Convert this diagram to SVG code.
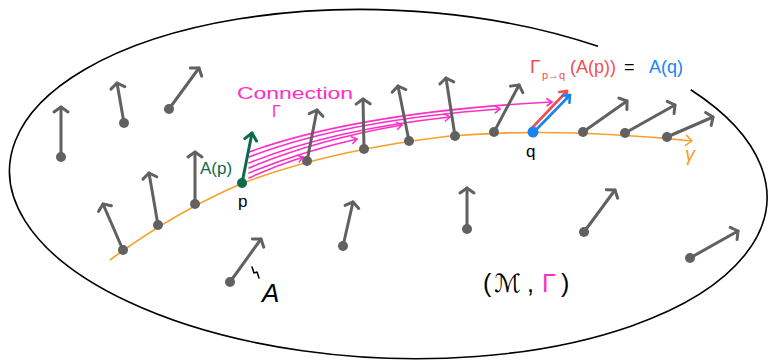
<svg xmlns="http://www.w3.org/2000/svg" width="768" height="361" viewBox="0 0 768 361">
<style>
  .vec { stroke: #616161; stroke-width: 3; stroke-linecap: round; fill: none; marker-end: url(#hGray); }
  .dot { fill: #616161; }
  .mag { stroke: #FF2EC4; stroke-width: 1.6; fill: none; stroke-linecap: round; marker-end: url(#hMag); }
  text { font-family: "Liberation Sans", "DejaVu Sans", sans-serif; }
</style>
<defs>
  <marker id="hGray" markerUnits="userSpaceOnUse" orient="auto" markerWidth="20" markerHeight="20" viewBox="-10 -10 20 20" refX="0" refY="0" overflow="visible">
    <path d="M-5,-7 L0,0 L-5,7" fill="none" stroke="#616161" stroke-width="3" stroke-linecap="round" stroke-linejoin="round"/>
  </marker>
  <marker id="hGreen" markerUnits="userSpaceOnUse" orient="auto" markerWidth="20" markerHeight="20" viewBox="-10 -10 20 20" refX="0" refY="0" overflow="visible">
    <path d="M-7,-6 L0,0 L-7,6" fill="none" stroke="#0D6B4B" stroke-width="3" stroke-linecap="round" stroke-linejoin="round"/>
  </marker>
  <marker id="hRed" markerUnits="userSpaceOnUse" orient="auto" markerWidth="20" markerHeight="20" viewBox="-10 -10 20 20" refX="0" refY="0" overflow="visible">
    <path d="M-6,-5 L0,0 L-6,5" fill="none" stroke="#F04E4E" stroke-width="2.6" stroke-linecap="round" stroke-linejoin="round"/>
  </marker>
  <marker id="hBlue" markerUnits="userSpaceOnUse" orient="auto" markerWidth="20" markerHeight="20" viewBox="-10 -10 20 20" refX="0" refY="0" overflow="visible">
    <path d="M-6,-5 L0,0 L-6,5" fill="none" stroke="#1784F5" stroke-width="2.6" stroke-linecap="round" stroke-linejoin="round"/>
  </marker>
  <marker id="hMag" markerUnits="userSpaceOnUse" orient="auto" markerWidth="20" markerHeight="20" viewBox="-10 -10 20 20" refX="0" refY="0" overflow="visible">
    <path d="M-5,-3.5 L0,0 L-5,3.5" fill="none" stroke="#FF2EC4" stroke-width="1.6" stroke-linecap="round" stroke-linejoin="round"/>
  </marker>
  <marker id="hOrange" markerUnits="userSpaceOnUse" orient="auto" markerWidth="20" markerHeight="20" viewBox="-10 -10 20 20" refX="0" refY="0" overflow="visible">
    <path d="M-6,-5 L0,0 L-6,5" fill="none" stroke="#F5A02A" stroke-width="1.5" stroke-linecap="round" stroke-linejoin="round"/>
  </marker>
</defs>

<g id="manifold" transform="translate(388,184) rotate(2.5)">
  <path d="M 298.3 -107.4 A 379 174 0 1 1 203.8 -146.7" fill="none" stroke="#000" stroke-width="1.6"/>
</g>

<g id="curve-gamma">
  <path d="M110,260 Q175,212 243,183 Q330,150 450,136 Q560,127 692,141" fill="none" stroke="#F5A02A" stroke-width="1.6" marker-end="url(#hOrange)"/>
  <text x="685" y="161" font-size="20" font-style="italic" fill="#F5A02A">γ</text>
</g>

<g id="connectors">
  <path class="mag" d="M249,152 Q360,112 552,102"/>
  <path class="mag" d="M249,157 Q345,120 500,109"/>
  <path class="mag" d="M249,163 Q330,130 450,117"/>
  <path class="mag" d="M249,168 Q315,140 402,125"/>
  <path class="mag" d="M249,173 Q300,152 357,139"/>
  <path class="mag" d="M249,178 Q275,166 303,157"/>
</g>

<g id="field">
  <line class="vec" x1="61" y1="157" x2="61" y2="107"/><circle class="dot" cx="61" cy="157" r="5"/>
  <line class="vec" x1="124" y1="123" x2="117" y2="83"/><circle class="dot" cx="124" cy="123" r="5"/>
  <line class="vec" x1="169" y1="109" x2="199" y2="68"/><circle class="dot" cx="169" cy="109" r="5"/>
  <line class="vec" x1="123" y1="250" x2="103" y2="204"/><circle class="dot" cx="123" cy="250" r="5"/>
  <line class="vec" x1="158" y1="225" x2="149" y2="173"/><circle class="dot" cx="158" cy="225" r="5"/>
  <line class="vec" x1="195" y1="204" x2="195" y2="152"/><circle class="dot" cx="195" cy="204" r="5"/>
  <line class="vec" x1="307" y1="161" x2="317" y2="110"/><circle class="dot" cx="307" cy="161" r="5"/>
  <line class="vec" x1="364" y1="149" x2="363" y2="99"/><circle class="dot" cx="364" cy="149" r="5"/>
  <line class="vec" x1="409" y1="141" x2="398" y2="86"/><circle class="dot" cx="409" cy="141" r="5"/>
  <line class="vec" x1="455" y1="136" x2="446" y2="78"/><circle class="dot" cx="455" cy="136" r="5"/>
  <line class="vec" x1="494" y1="132" x2="519" y2="85"/><circle class="dot" cx="494" cy="132" r="5"/>
  <line class="vec" x1="583" y1="132" x2="627" y2="101"/><circle class="dot" cx="583" cy="132" r="5"/>
  <line class="vec" x1="625" y1="133" x2="675" y2="105"/><circle class="dot" cx="625" cy="133" r="5"/>
  <line class="vec" x1="667" y1="137" x2="713" y2="117"/><circle class="dot" cx="667" cy="137" r="5"/>
  <line class="vec" x1="230" y1="282" x2="261" y2="239"/><circle class="dot" cx="230" cy="282" r="5"/>
  <line class="vec" x1="343" y1="246" x2="353" y2="202"/><circle class="dot" cx="343" cy="246" r="5"/>
  <line class="vec" x1="467" y1="229" x2="467" y2="188"/><circle class="dot" cx="467" cy="229" r="5"/>
  <line class="vec" x1="584" y1="232" x2="615" y2="190"/><circle class="dot" cx="584" cy="232" r="5"/>
  <line class="vec" x1="690" y1="258" x2="738" y2="231"/><circle class="dot" cx="690" cy="258" r="5"/>
</g>

<g id="point-p">
  <line x1="242" y1="183" x2="252" y2="133" stroke="#0D6B4B" stroke-width="3" stroke-linecap="round" marker-end="url(#hGreen)"/>
  <circle cx="242" cy="183" r="5" fill="#0D6B4B"/>
  <text x="200" y="174" font-size="17" fill="#0D6B4B">A(p)</text>
  <text x="238" y="207" font-size="17" fill="#000">p</text>
</g>

<g id="point-q">
  <line x1="531" y1="129" x2="567" y2="91" stroke="#F04E4E" stroke-width="2.6" stroke-linecap="round" marker-end="url(#hRed)"/>
  <line x1="534" y1="132" x2="570" y2="95" stroke="#1784F5" stroke-width="2.6" stroke-linecap="round" marker-end="url(#hBlue)"/>
  <circle cx="533" cy="132" r="5.5" fill="#1784F5"/>
  <text x="526" y="157" font-size="17" fill="#000">q</text>
</g>

<g id="label-transport">
  <text x="530" y="73" font-size="19" fill="#F04E4E">Γ</text>
  <text x="542" y="79" font-size="11" fill="#F04E4E">p→q</text>
  <text x="570" y="73" font-size="18" fill="#F04E4E">(A(p))</text>
  <text x="624" y="73" font-size="18" fill="#000">=</text>
  <text x="649" y="73" font-size="18" fill="#1784F5">A(q)</text>
</g>

<g id="label-connection">
  <text x="237" y="99" font-size="16" fill="#FF2EC4" textLength="116" lengthAdjust="spacingAndGlyphs">Connection</text>
  <text x="272" y="117" font-size="16" fill="#FF2EC4">Γ</text>
</g>

<g id="label-A">
  <path d="M252,267 L254,273 L257,272 L259,278" fill="none" stroke="#000" stroke-width="1.5" stroke-linecap="round" stroke-linejoin="round"/>
  <text x="262" y="302" font-size="26" font-style="italic" fill="#000">A</text>
</g>

<g id="label-manifold">
  <text y="292" font-size="25" fill="#000"><tspan x="483">(</tspan><tspan x="494" font-style="italic">ℳ</tspan><tspan x="527">,</tspan><tspan x="542" fill="#FF2EC4">Γ</tspan><tspan x="561">)</tspan></text>
</g>
</svg>
